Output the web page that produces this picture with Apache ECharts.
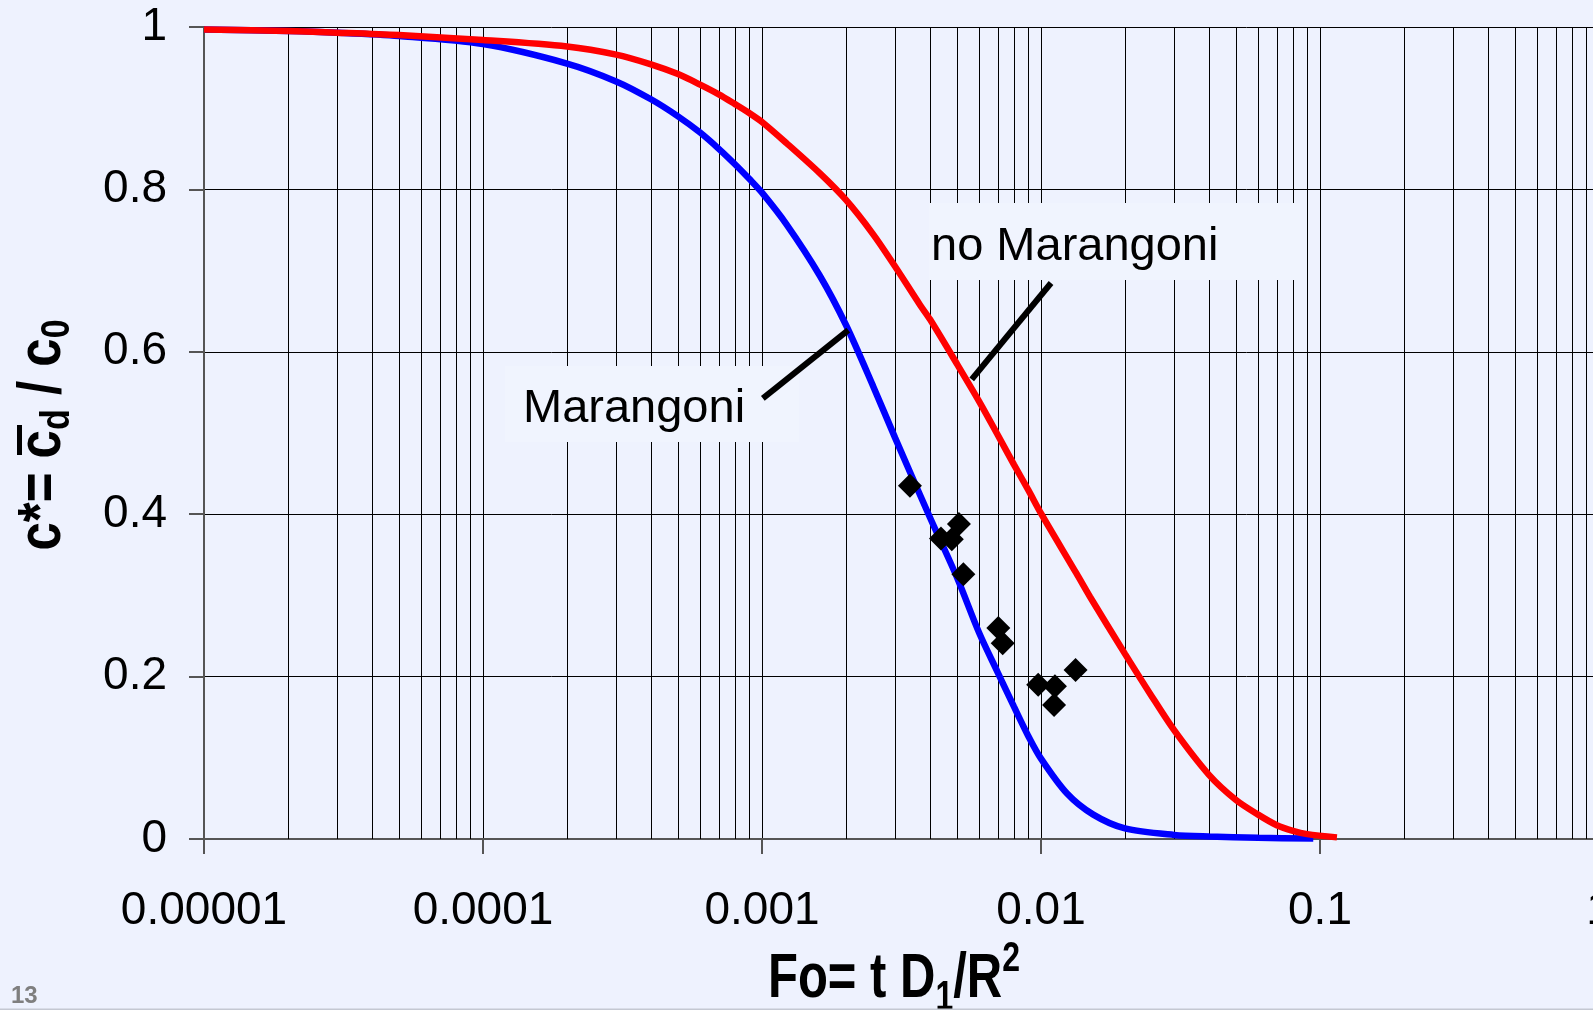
<!DOCTYPE html>
<html>
<head>
<meta charset="utf-8">
<script src="https://cdn.jsdelivr.net/npm/echarts@6/dist/echarts.min.js"></script>
<style>
html,body{margin:0;padding:0;background:#eef2fe;}
#chart{width:1593px;height:1010px;}
</style>
</head>
<body>
<div id="chart"></div>
<script>
// ---- data ----
const xTickLabels = ['0.00001', '0.0001', '0.001', '0.01', '0.1', '1'];
const yTickLabels = ['0', '0.2', '0.4', '0.6', '0.8', '1'];

// Marangoni (blue)
const marangoniFo = [1e-5, 2e-5, 3e-5, 5e-5, 1e-4, 2e-4, 3e-4, 4e-4, 5e-4, 6e-4, 7e-4, 8e-4, 9e-4, 1e-3,
  1.224e-3, 1.61e-3, 2e-3, 2.5e-3, 3e-3, 4e-3, 5e-3, 6e-3, 7e-3, 8e-3, 9e-3, 0.01,
  0.0124, 0.0154, 0.02, 0.03, 0.04, 0.06, 0.0946];
const marangoniC = [0.997, 0.995, 0.993, 0.989, 0.979, 0.955, 0.933, 0.911, 0.890, 0.870, 0.850, 0.831, 0.813, 0.796,
  0.757, 0.694, 0.633, 0.558, 0.494, 0.396, 0.322, 0.254, 0.205, 0.163, 0.127, 0.099,
  0.056, 0.030, 0.013, 0.005, 0.003, 0.0015, 0.0005];

// no Marangoni (red)
const noMarangoniFo = [1e-5, 2e-5, 3e-5, 5e-5, 1e-4, 2e-4, 3e-4, 4e-4, 5e-4, 6e-4, 7e-4, 8e-4, 9e-4, 1e-3,
  1.224e-3, 1.61e-3, 2e-3, 2.5e-3, 3e-3, 3.68e-3, 4e-3, 5e-3, 6e-3, 7e-3, 8e-3, 9e-3, 0.01,
  0.0134, 0.015, 0.02, 0.0246, 0.03, 0.04, 0.05, 0.06, 0.07, 0.08, 0.09, 0.115];
const noMarangoniC = [0.997, 0.995, 0.993, 0.990, 0.984, 0.976, 0.966, 0.954, 0.942, 0.929, 0.917, 0.905, 0.894, 0.883,
  0.857, 0.820, 0.787, 0.745, 0.705, 0.658, 0.640, 0.585, 0.539, 0.4975, 0.461, 0.430, 0.401,
  0.327, 0.298, 0.228, 0.179, 0.134, 0.079, 0.048, 0.030, 0.017, 0.010, 0.006, 0.002];

// experiments (diamonds)
const expFo = [0.00339, 0.00438, 0.00479, 0.00508, 0.00527, 0.00703, 0.00729, 0.00977, 0.01122, 0.01114, 0.0133];
const expC  = [0.435, 0.370, 0.369, 0.388, 0.326, 0.260, 0.241, 0.190, 0.188, 0.165, 0.208];

// label pointer lines
const marangoniPointerFo = [0.001007, 0.002038];
const marangoniPointerC  = [0.5427, 0.6268];
const noMarangoniPointerFo = [0.010864, 0.005645];
const noMarangoniPointerC  = [0.6847, 0.566];

// ---- helpers ----
const zip = (a, b) => a.map((v, i) => [v, b[i]]);
const minorGrid = [];
for (let e = -5; e < 0; e++) {
  for (let k = 2; k <= 9; k++) minorGrid.push(k * Math.pow(10, e));
}
const FONT = '"Liberation Sans", Arial, sans-serif';

const chart = echarts.init(document.getElementById('chart'), null, {renderer: 'canvas'});
const option = {
  backgroundColor: '#eef2fe',
  animation: false,
  grid: {left: 204, top: 27, right: -6, height: 812, containLabel: false, outerBoundsMode: 'none'},
  xAxis: {
    type: 'log', logBase: 10, min: 1e-5, max: 1, splitNumber: 5,
    axisLine: {show: true, onZero: false, lineStyle: {color: '#555', width: 2}},
    axisTick: {show: true, length: 15, lineStyle: {color: '#555', width: 2}},
    axisLabel: {
      margin: 49, fontSize: 46, color: '#000', fontFamily: FONT,
      showMinLabel: true, showMaxLabel: true, hideOverlap: false,
      formatter: v => xTickLabels[Math.round(Math.log10(v)) + 5]
    },
    splitLine: {show: true, lineStyle: {color: '#000', width: 1}}
  },
  yAxis: {
    type: 'value', min: 0, max: 1, interval: 0.2,
    axisLine: {show: true, onZero: false, lineStyle: {color: '#555', width: 2}},
    axisTick: {show: true, length: 15, lineStyle: {color: '#555', width: 2}},
    axisLabel: {
      margin: 37, fontSize: 46, color: '#000', fontFamily: FONT,
      formatter: v => yTickLabels[Math.round(v / 0.2)]
    },
    splitLine: {show: true, lineStyle: {color: '#000', width: 1}}
  },
  series: [
    {
      name: 'minor grid', type: 'custom', silent: true, z: 1,
      data: minorGrid.map(v => [v, 0]),
      encode: {x: 0, y: 1},
      renderItem: (params, api) => {
        const p0 = api.coord([api.value(0), 0]);
        const p1 = api.coord([api.value(0), 1]);
        const x = Math.round(p0[0]) + 0.5;
        return {type: 'line', silent: true,
          shape: {x1: x, y1: p0[1], x2: x, y2: p1[1]},
          style: {stroke: '#000', lineWidth: 1}};
      }
    },
    {
      name: 'Marangoni', type: 'line', data: zip(marangoniFo, marangoniC),
      smooth: 0.3, symbol: 'none', z: 3,
      lineStyle: {color: '#0000ff', width: 6.5}
    },
    {
      name: 'no Marangoni', type: 'line', data: zip(noMarangoniFo, noMarangoniC),
      smooth: 0.3, symbol: 'none', z: 3,
      lineStyle: {color: '#ff0000', width: 6.5}
    },
    {
      type: 'line', data: zip(marangoniPointerFo, marangoniPointerC), symbol: 'none', z: 4,
      lineStyle: {color: '#000', width: 6}
    },
    {
      type: 'line', data: zip(noMarangoniPointerFo, noMarangoniPointerC), symbol: 'none', z: 4,
      lineStyle: {color: '#000', width: 6}
    },
    {
      name: 'experiment', type: 'scatter', data: zip(expFo, expC),
      symbol: 'diamond', symbolSize: 24, z: 5,
      itemStyle: {color: '#000', opacity: 1}
    }
  ],
  graphic: [
    // label boxes
    {type: 'rect', z: 2, silent: true, shape: {x: 505, y: 366, width: 294, height: 76}, style: {fill: '#f0f4fe'}},
    {type: 'rect', z: 2, silent: true, shape: {x: 929, y: 203, width: 371, height: 77}, style: {fill: '#f0f4fe'}},
    {type: 'text', z: 6, silent: true, x: 523, y: 409,
      style: {text: 'Marangoni', fontSize: 47, fontFamily: FONT, fill: '#000', align: 'left', verticalAlign: 'middle'}},
    {type: 'text', z: 6, silent: true, x: 931, y: 247,
      style: {text: 'no Marangoni', fontSize: 47, fontFamily: FONT, fill: '#000', align: 'left', verticalAlign: 'middle'}},
    // x axis title
    {type: 'text', z: 6, silent: true, x: 894, y: 979.5, scaleY: 1.3,
      style: {
        text: '{m|Fo= t D}{s|1}{m|/R}{p|2}', align: 'center', verticalAlign: 'middle', fill: '#000',
        rich: {
          m: {fontSize: 49, fontWeight: 'bold', fontFamily: FONT, lineHeight: 62, verticalAlign: 'middle', fill: '#000'},
          s: {fontSize: 32, fontWeight: 'bold', fontFamily: FONT, lineHeight: 30, verticalAlign: 'bottom', fill: '#000'},
          p: {fontSize: 32, fontWeight: 'bold', fontFamily: FONT, lineHeight: 45, verticalAlign: 'top', fill: '#000'}
        }
      }},
    // y axis title
    {type: 'text', z: 6, silent: true, x: 43.7, y: 435, rotation: Math.PI / 2, scaleY: 1.18,
      style: {
        text: '{m|c*= c}{s|d}{m| / c}{s|0}', align: 'center', verticalAlign: 'middle', fill: '#000',
        rich: {
          m: {fontSize: 51, fontWeight: 'bold', fontFamily: FONT, lineHeight: 58, verticalAlign: 'middle', fill: '#000'},
          s: {fontSize: 34, fontWeight: 'bold', fontFamily: FONT, lineHeight: 34, verticalAlign: 'bottom', fill: '#000'}
        }
      }},
    // overline on c_d
    {type: 'rect', z: 6, silent: true, shape: {x: 17, y: 425, width: 5, height: 30}, style: {fill: '#000'}},
    // slide number
    {type: 'text', z: 6, silent: true, x: 11, y: 996.5,
      style: {text: '13', fontSize: 24, fontWeight: 'bold', fontFamily: FONT, fill: '#7f7f7f', align: 'left', verticalAlign: 'middle'}},
    // slide bottom border
    {type: 'rect', z: 6, silent: true, shape: {x: 0, y: 1008.5, width: 1593, height: 1.5}, style: {fill: '#c4c8d2'}}
  ]
};
chart.setOption(option);
</script>
</body>
</html>
